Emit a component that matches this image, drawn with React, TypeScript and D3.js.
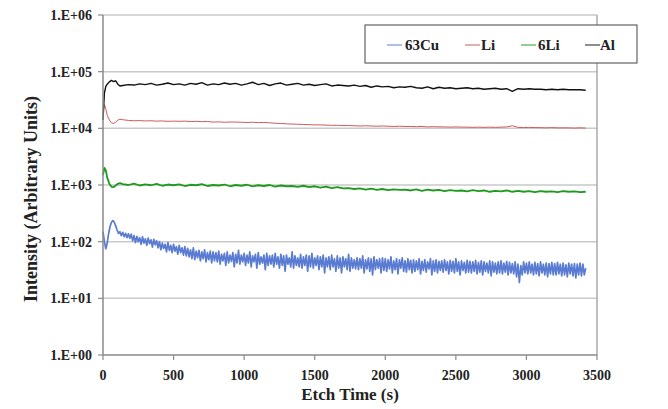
import React from "react";
import * as d3 from "d3";

// sample times (s) for the Al / Li / 6Li traces: fine at the start, then every 40 s
const earlyTimes = [0, 10, 20, 30, 45, 60, 75, 90, 105, 120];
const lateTimes = d3.range(140, 3421, 40);
const sampleTimes = [...earlyTimes, ...lateTimes];

// 63Cu is sampled every 10 s (0 .. 3420)
const cuStep = 10;

const alValues = [
	14000, 42000, 55000, 60000, 66000, 70000, 67000, 69000, 60000, 56000,
	57000, 59000, 58000, 61000, 59000, 62000, 58000, 60000, 63000, 59000,
	61000, 58000, 62000, 60000, 64000, 58000, 61000, 59000, 63000, 60000,
	62000, 58000, 61000, 65000, 59000, 62000, 57000, 61000, 63000, 58000,
	60000, 62000, 58000, 60000, 57000, 59000, 61000, 56000, 58000, 57000,
	56000, 58000, 55000, 57000, 53000, 56000, 54000, 55000, 52000, 54000,
	53000, 55000, 52000, 51000, 54000, 50000, 53000, 51000, 52000, 50000,
	51000, 52000, 50000, 51000, 49000, 50000, 51000, 49000, 50000, 45000,
	50000, 49000, 50000, 49000, 49000, 48000, 49000, 48000, 49000, 48000,
	48000, 48000, 47000,
];

const liValues = [
	19000, 26000, 22000, 17000, 14000, 12500, 12200, 12800, 14000, 14500,
	14200, 13800, 13600, 13700, 13500, 13600, 13400, 13500, 13300, 13400,
	13300, 13400, 13200, 13300, 13100, 13200, 12900, 13000, 12800, 12900,
	12900, 12800, 12700, 12800, 12600, 12700, 12500, 12300, 12200, 12000,
	11900, 11800, 11700, 11600, 11500, 11500, 11400, 11300, 11300, 11200,
	11200, 11100, 11000, 11100, 11000, 10900, 11000, 10900, 10800, 10900,
	10800, 10800, 10700, 10800, 10600, 10700, 10600, 10600, 10500, 10600,
	10500, 10500, 10400, 10500, 10400, 10500, 10400, 10500, 10600, 11100,
	10400, 10300, 10400, 10300, 10300, 10200, 10300, 10200, 10200, 10200,
	10100, 10200, 10100,
];

const li6Values = [
	1500, 2000, 1800, 1350, 1050, 930, 920, 980, 1050, 1080,
	1040, 1000, 1060, 980, 1030, 990, 1050, 970, 1020, 990,
	1030, 960, 1010, 990, 1040, 960, 1000, 980, 1020, 950,
	1000, 970, 1010, 950, 990, 960, 1000, 940, 980, 950,
	960, 930, 970, 920, 950, 900, 940, 880, 920, 870,
	880, 850, 870, 830, 860, 820, 850, 810, 840, 820,
	830, 800, 840, 790, 830, 800, 820, 780, 810, 790,
	800, 770, 810, 780, 800, 760, 790, 770, 800, 760,
	790, 760, 780, 750, 780, 760, 770, 750, 780, 760,
	770, 750, 760,
];

const cuValues = [
	150, 100, 75, 95, 140, 185, 220, 235, 220, 190, 160, 140, 150, 128, 146, 122, 140, 118, 138, 115,
	136, 104, 128, 96, 124, 100, 118, 90, 122, 94, 112, 86, 116, 92, 108, 80, 110, 88, 104, 78,
	100, 72, 94, 76, 90, 66, 96, 70, 86, 64, 90, 68, 82, 60, 86, 64, 78, 58, 82, 56,
	76, 54, 72, 50, 78, 48, 68, 52, 70, 46, 66, 50, 72, 44, 64, 48, 68, 42, 66, 46,
	64, 44, 68, 40, 60, 46, 62, 38, 66, 42, 58, 45, 64, 36, 60, 42, 70, 40, 58, 44,
	62, 38, 58, 42, 66, 36, 56, 44, 60, 34, 64, 40, 54, 42, 58, 32, 62, 38, 56, 40,
	58, 36, 62, 40, 54, 34, 60, 38, 56, 30, 58, 40, 52, 36, 66, 34, 56, 38, 52, 36,
	60, 34, 54, 38, 58, 30, 56, 36, 62, 34, 52, 38, 56, 32, 54, 36, 58, 28, 52, 36,
	54, 32, 58, 36, 50, 30, 56, 34, 52, 28, 54, 36, 50, 32, 60, 30, 52, 34, 48, 33,
	52, 32, 50, 34, 56, 28, 48, 33, 52, 30, 50, 26, 54, 32, 48, 34, 50, 28, 52, 31,
	50, 30, 48, 33, 54, 28, 46, 32, 50, 27, 48, 34, 52, 30, 46, 29, 50, 32, 47, 28,
	48, 30, 46, 32, 50, 27, 45, 31, 48, 29, 44, 33, 50, 26, 46, 30, 48, 28, 45, 31,
	46, 29, 48, 31, 44, 27, 47, 30, 45, 28, 50, 30, 44, 26, 46, 31, 43, 28, 47, 29,
	45, 28, 44, 30, 47, 27, 43, 29, 46, 26, 44, 30, 42, 28, 46, 25, 44, 29, 42, 27,
	44, 28, 46, 27, 42, 29, 45, 26, 43, 28, 41, 27, 44, 24, 40, 19, 38, 26, 44, 28,
	42, 27, 44, 28, 40, 26, 43, 27, 41, 25, 44, 28, 40, 26, 42, 24, 41, 27, 43, 26,
	41, 26, 43, 27, 40, 25, 42, 26, 39, 24, 42, 27, 40, 25, 41, 23, 40, 26, 42, 25,
	40, 26, 34,
];

const xTicks = [0, 500, 1000, 1500, 2000, 2500, 3000, 3500];
const yTicks = [1, 10, 100, 1000, 10000, 100000, 1000000];
const yTickLabels = ["1.E+00", "1.E+01", "1.E+02", "1.E+03", "1.E+04", "1.E+05", "1.E+06"];

const seriesNames = ["63Cu", "Li", "6Li", "Al"];
const seriesColors = ["#5a7bd2", "#cd5a5a", "#1d9a1d", "#111111"];

const FONT = "Liberation Serif, DejaVu Serif, serif";

export default function App() {
	const W = 668;
	const H = 409;
	const x = d3.scaleLinear().domain([0, 3500]).range([103, 597]);
	const y = d3.scaleLog().domain([1, 1e6]).range([355, 15]);

	const line = d3
		.line<[number, number]>()
		.x((d) => x(d[0]))
		.y((d) => y(d[1]));

	const toPts = (times: number[], vals: number[]) =>
		vals.map((v, i) => [times[i], v] as [number, number]);

	const cuTimes = cuValues.map((_, i) => i * cuStep);

	const paths = [
		{ d: line(toPts(cuTimes, cuValues)), color: seriesColors[0], w: 1.7 },
		{ d: line(toPts(sampleTimes, liValues)), color: seriesColors[1], w: 1 },
		{ d: line(toPts(sampleTimes, li6Values)), color: seriesColors[2], w: 1.8 },
		{ d: line(toPts(sampleTimes, alValues)), color: seriesColors[3], w: 1.4 },
	];

	// legend layout
	const legendItems = [
		{ lx: 387, tx: 405 },
		{ lx: 465, tx: 481 },
		{ lx: 521, tx: 538 },
		{ lx: 585, tx: 600 },
	];

	const txt = { fontFamily: FONT, fontWeight: 700 as const };

	return (
		<svg
			width={W}
			height={H}
			style={{ position: "absolute", left: 0, top: 0, background: "#fff" }}
		>
			{/* grid */}
			{yTicks.slice(1).map((t) => (
				<line key={t} x1={x(0)} x2={x(3500)} y1={y(t)} y2={y(t)} stroke="#c9c9c9" strokeWidth={1.5} />
			))}
			<line x1={x(3500)} x2={x(3500)} y1={y(1e6)} y2={y(1)} stroke="#a8a8a8" strokeWidth={1.5} />

			{/* series */}
			{paths.map((p, i) => (
				<path key={i} d={p.d || ""} fill="none" stroke={p.color} strokeWidth={p.w} strokeLinejoin="round" />
			))}

			{/* axes */}
			<line x1={x(0)} x2={x(0)} y1={y(1e6)} y2={y(1)} stroke="#8a8a8a" strokeWidth={1.5} />
			<line x1={x(0)} x2={x(3500)} y1={y(1)} y2={y(1)} stroke="#8a8a8a" strokeWidth={1.5} />
			{yTicks.map((t, i) => (
				<g key={t}>
					<line x1={x(0) - 5} x2={x(0)} y1={y(t)} y2={y(t)} stroke="#8a8a8a" strokeWidth={1.2} />
					<text x={92} y={y(t)} dy="0.35em" textAnchor="end" fontSize={14} style={txt} fill="#222">
						{yTickLabels[i]}
					</text>
				</g>
			))}
			{xTicks.map((t) => (
				<g key={t}>
					<line x1={x(t)} x2={x(t)} y1={y(1)} y2={y(1) + 5} stroke="#8a8a8a" strokeWidth={1.2} />
					<text x={x(t)} y={380} textAnchor="middle" fontSize={14} style={txt} fill="#222">
						{t}
					</text>
				</g>
			))}

			{/* axis titles */}
			<text x={350} y={400} textAnchor="middle" fontSize={17} style={txt} fill="#222">
				Etch Time (s)
			</text>
			<text
				transform="translate(37,199) rotate(-90)"
				textAnchor="middle"
				fontSize={18}
				style={txt}
				fill="#222"
			>
				Intensity (Arbitrary Units)
			</text>

			{/* legend */}
			<rect x={365} y={25} width={272} height={38} fill="#fff" stroke="#444" strokeWidth={1} />
			{seriesNames.map((name, i) => (
				<g key={name}>
					<line
						x1={legendItems[i].lx}
						x2={legendItems[i].lx + 15}
						y1={45}
						y2={45}
						stroke={seriesColors[i]}
						strokeWidth={1.2}
						opacity={0.8}
					/>
					<text x={legendItems[i].tx} y={50} fontSize={15} style={txt} fill="#222">
						{name}
					</text>
				</g>
			))}
		</svg>
	);
}
